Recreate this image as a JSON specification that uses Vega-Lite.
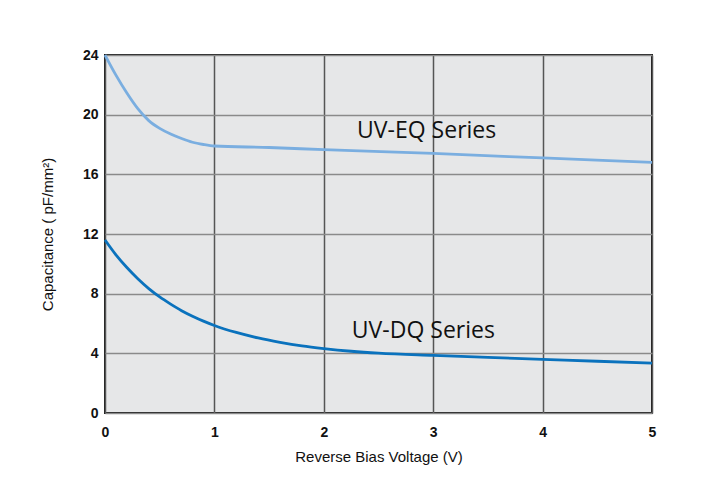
{
  "$schema": "https://vega.github.io/schema/vega-lite/v6.json",
  "width": 547,
  "height": 358,
  "autosize": {"type": "none"},
  "padding": {"left": 105, "top": 55, "right": 55, "bottom": 65},
  "background": "white",
  "config": {
    "view": {"fill": "#e6e7e8", "stroke": "#1a1a1a", "strokeWidth": 2},
    "axis": {
      "labelFont": "Liberation Sans",
      "labelFontSize": 14,
      "labelFontWeight": "bold",
      "labelColor": "#111",
      "labelFlush": false,
      "titleFont": "Liberation Sans",
      "titleFontSize": 15,
      "titleFontWeight": "normal",
      "titleColor": "#111",
      "ticks": false,
      "domain": false,
      "gridWidth": 1.5
    }
  },
  "datasets": {
    "curves": [
      {"v": 0, "c": 24.0, "s": "UV-EQ"},
      {"v": 0.1, "c": 22.65, "s": "UV-EQ"},
      {"v": 0.2, "c": 21.45, "s": "UV-EQ"},
      {"v": 0.3, "c": 20.4, "s": "UV-EQ"},
      {"v": 0.4, "c": 19.6, "s": "UV-EQ"},
      {"v": 0.5, "c": 19.08, "s": "UV-EQ"},
      {"v": 0.6, "c": 18.7, "s": "UV-EQ"},
      {"v": 0.7, "c": 18.4, "s": "UV-EQ"},
      {"v": 0.8, "c": 18.15, "s": "UV-EQ"},
      {"v": 0.9, "c": 18.0, "s": "UV-EQ"},
      {"v": 1.0, "c": 17.9, "s": "UV-EQ"},
      {"v": 1.5, "c": 17.8, "s": "UV-EQ"},
      {"v": 2.0, "c": 17.65, "s": "UV-EQ"},
      {"v": 3.0, "c": 17.4, "s": "UV-EQ"},
      {"v": 4.0, "c": 17.1, "s": "UV-EQ"},
      {"v": 5.0, "c": 16.8, "s": "UV-EQ"},
      {"v": 0, "c": 11.6, "s": "UV-DQ"},
      {"v": 0.1, "c": 10.6, "s": "UV-DQ"},
      {"v": 0.2, "c": 9.75, "s": "UV-DQ"},
      {"v": 0.3, "c": 9.0, "s": "UV-DQ"},
      {"v": 0.4, "c": 8.34, "s": "UV-DQ"},
      {"v": 0.5, "c": 7.78, "s": "UV-DQ"},
      {"v": 0.6, "c": 7.3, "s": "UV-DQ"},
      {"v": 0.7, "c": 6.86, "s": "UV-DQ"},
      {"v": 0.8, "c": 6.49, "s": "UV-DQ"},
      {"v": 0.9, "c": 6.16, "s": "UV-DQ"},
      {"v": 1.0, "c": 5.87, "s": "UV-DQ"},
      {"v": 1.2, "c": 5.4, "s": "UV-DQ"},
      {"v": 1.4, "c": 5.03, "s": "UV-DQ"},
      {"v": 1.6, "c": 4.74, "s": "UV-DQ"},
      {"v": 1.8, "c": 4.5, "s": "UV-DQ"},
      {"v": 2.0, "c": 4.32, "s": "UV-DQ"},
      {"v": 2.25, "c": 4.14, "s": "UV-DQ"},
      {"v": 2.5, "c": 4.01, "s": "UV-DQ"},
      {"v": 3.0, "c": 3.86, "s": "UV-DQ"},
      {"v": 3.5, "c": 3.73, "s": "UV-DQ"},
      {"v": 4.0, "c": 3.6, "s": "UV-DQ"},
      {"v": 4.5, "c": 3.47, "s": "UV-DQ"},
      {"v": 5.0, "c": 3.35, "s": "UV-DQ"}
    ],
    "labels": [
      {"v": 2.94, "c": 18.9, "label": "UV-EQ Series"},
      {"v": 2.91, "c": 5.5, "label": "UV-DQ Series"}
    ]
  },
  "layer": [
    {
      "data": {"name": "curves"},
      "mark": {"type": "line", "interpolate": "monotone", "strokeWidth": 2.8},
      "encoding": {
        "x": {
          "field": "v", "type": "quantitative",
          "scale": {"domain": [0, 5], "nice": false},
          "axis": {
            "title": "Reverse Bias Voltage (V)",
            "values": [0, 1, 2, 3, 4, 5],
            "format": "d",
            "grid": true, "gridColor": "#555555",
            "labelPadding": 12, "titlePadding": 10
          }
        },
        "y": {
          "field": "c", "type": "quantitative",
          "scale": {"domain": [0, 24], "nice": false},
          "axis": {
            "title": "Capacitance ( pF/mm²)",
            "values": [0, 4, 8, 12, 16, 20, 24],
            "grid": true, "gridColor": "#8a8a8a",
            "labelPadding": 7, "titlePadding": 27
          }
        },
        "color": {
          "field": "s", "type": "nominal",
          "scale": {"domain": ["UV-EQ", "UV-DQ"], "range": ["#7aaee0", "#0a72bd"]},
          "legend": null
        }
      }
    },
    {
      "data": {"name": "labels"},
      "mark": {"type": "text", "font": "Open Sans", "fontSize": 23, "color": "#111", "align": "center", "baseline": "middle"},
      "encoding": {
        "x": {"field": "v", "type": "quantitative"},
        "y": {"field": "c", "type": "quantitative"},
        "text": {"field": "label"}
      }
    }
  ]
}
